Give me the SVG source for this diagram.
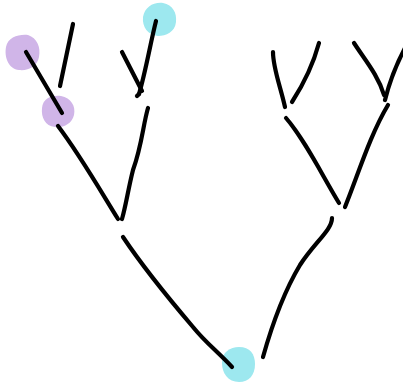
<svg xmlns="http://www.w3.org/2000/svg" width="403" height="382" viewBox="0 0 403 382">
<style>
.purple{fill:#d0b5e8}
.cyan{fill:#9de8ef}
.ln{fill:none;stroke:#000;stroke-width:4.2;stroke-linecap:round;stroke-linejoin:round}
</style>
<rect width="403" height="382" fill="#fff"/>
<g id="node-purple-top"><path class="purple" d="M6,47 C8,37 19,34 28,35 C37,38 41,47 39,57 C37,67 28,71 19,70 C9,69 4,58 6,47 Z"/></g>
<g id="node-purple-mid"><path class="purple" d="M42,108 C43,98 52,95 61,96 C71,98 76,106 74,115 C72,124 63,128 55,127 C45,126 41,117 42,108 Z"/></g>
<g id="node-cyan-top"><path class="cyan" d="M143,17 C145,7 153,2 163,3 C173,5 177,13 176,22 C175,32 166,36 158,36 C148,35 142,27 143,17 Z"/></g>
<g id="node-cyan-bottom"><path class="cyan" d="M222,363 C222,352 230,347 239,347 C250,347 255,354 255,364 C255,375 249,382 239,382 C228,382 222,373 222,363 Z"/></g>
<g id="connectors">
<path class="ln" d="M26,52 L62,113"/>
<path class="ln" d="M73,24 L60,86"/>
<path class="ln" d="M156,21 C150,45 146,70 139,94"/>
<path class="ln" d="M122,52 L142,91"/>
<path class="ln" d="M139,94 L137,96"/>
<path class="ln" d="M58,126 C80,155 100,190 118,219"/>
<path class="ln" d="M148,108 C143,125 142,145 133,170 C128,190 126,205 122,219"/>
<path class="ln" d="M123,237 C145,270 170,300 193,327 C205,342 218,352 232,367"/>
<path class="ln" d="M263,357 C272,325 285,290 300,265 C315,242 332,230 332,218"/>
<path class="ln" d="M273,52 C273,68 280,85 285,107"/>
<path class="ln" d="M319,43 C313,65 303,85 292,102"/>
<path class="ln" d="M354,43 C365,60 378,75 384,95"/>
<path class="ln" d="M405,48 C396,65 390,80 385,100"/>
<path class="ln" d="M286,118 C305,140 322,175 339,203"/>
<path class="ln" d="M388,105 C370,135 358,175 345,207"/>
</g>
</svg>
